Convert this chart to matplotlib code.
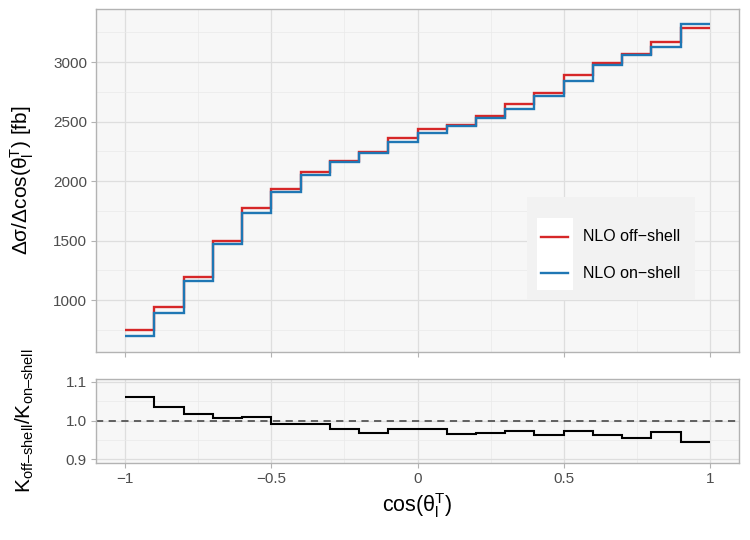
import numpy as np
import matplotlib
matplotlib.use("Agg")
import matplotlib.pyplot as plt
from matplotlib.patches import Rectangle
from matplotlib.lines import Line2D
from matplotlib.ticker import MultipleLocator

plt.rcParams['font.family'] = ['Liberation Sans', 'DejaVu Sans']
plt.rcParams['mathtext.fontset'] = 'custom'
plt.rcParams['mathtext.rm'] = 'Liberation Sans'
plt.rcParams['mathtext.it'] = 'Liberation Sans:italic'
plt.rcParams['mathtext.bf'] = 'Liberation Sans:bold'

# ---- data ----
bin_edges = [-1.0, -0.9, -0.8, -0.7, -0.6, -0.5, -0.4, -0.3, -0.2, -0.1, 0.0,
             0.1, 0.2, 0.3, 0.4, 0.5, 0.6, 0.7, 0.8, 0.9, 1.0]
nlo_off_shell = [747, 944, 1197, 1501, 1774, 1937, 2078, 2170, 2243, 2359,
                 2435, 2471, 2547, 2646, 2738, 2890, 2997, 3068, 3171, 3287]
nlo_on_shell = [696, 896, 1160, 1470, 1732, 1909, 2049, 2157, 2240, 2331,
                2407, 2465, 2527, 2609, 2716, 2842, 2975, 3062, 3124, 3318]
k_ratio = [1.061, 1.034, 1.018, 1.007, 1.008, 0.992, 0.991, 0.978, 0.967, 0.979,
           0.979, 0.965, 0.967, 0.974, 0.963, 0.973, 0.963, 0.955, 0.970, 0.946]
series_labels = ['NLO off\u2212shell', 'NLO on\u2212shell']
series_colors = ['#d62728', '#1f77b4']

W, H = 750, 540
fig = plt.figure(figsize=(7.5, 5.4), dpi=100)

def fr(l, t, r, b):
    return [l / W, 1 - b / H, (r - l) / W, (b - t) / H]

ax1 = fig.add_axes(fr(96, 9, 739, 352))
ax2 = fig.add_axes(fr(96, 379, 739, 463))

bg = '#F7F7F7'
border = '#B3B3B3'
grid_c = '#DEDEDE'
for ax in (ax1, ax2):
    ax.set_facecolor(bg)
    for s in ax.spines.values():
        s.set_color(border)
        s.set_linewidth(1.0)
    ax.set_xlim(-1.1, 1.1)
    ax.xaxis.set_major_locator(MultipleLocator(0.5))
    ax.xaxis.set_minor_locator(MultipleLocator(0.25))
    ax.grid(which='major', color=grid_c, lw=0.9)
    ax.grid(which='minor', color='#E9E9E9', lw=0.5)
    ax.set_axisbelow(True)
    ax.tick_params(which='major', length=3.5, width=0.8, color=border,
                   labelcolor='#4D4D4D', labelsize=11, pad=3)
    ax.tick_params(which='minor', length=0)

# top panel
ax1.set_ylim(564, 3447)
ax1.yaxis.set_minor_locator(MultipleLocator(250))
ax1.set_yticks([1000, 1500, 2000, 2500, 3000])
ax1.tick_params(axis='x', labelbottom=False)
ax1.stairs(nlo_off_shell, bin_edges, color=series_colors[0], lw=1.7, baseline=None)
ax1.stairs(nlo_on_shell, bin_edges, color=series_colors[1], lw=1.7, baseline=None)
ax1.set_ylabel('\u0394\u03c3/\u0394cos(\u03b8$_{\\mathrm{l}}^{\\mathrm{T}}$) [fb]',
               fontsize=15, color='black')

# legend (ggplot-style)
def px2ax(x, y):
    return ((x - 96) / 643, (352 - y) / 343)

lx0, ly0 = px2ax(526.7, 300)
lx1, ly1 = px2ax(695, 196.7)
ax1.add_patch(Rectangle((lx0, ly0), lx1 - lx0, ly1 - ly0, transform=ax1.transAxes,
                        facecolor='#F2F2F2', edgecolor='none', zorder=5))
kx0, ky0 = px2ax(536.7, 290)
kx1, ky1 = px2ax(572.7, 218.3)
ax1.add_patch(Rectangle((kx0, ky0), kx1 - kx0, ky1 - ky0, transform=ax1.transAxes,
                        facecolor='white', edgecolor='none', zorder=6))
for lab, col, yy in zip(series_labels, series_colors, [236.7, 273.3]):
    a0, b0 = px2ax(540.7, yy)
    a1, _ = px2ax(568.3, yy)
    ax1.add_line(Line2D([a0, a1], [b0, b0], transform=ax1.transAxes, color=col,
                        lw=1.7, zorder=7))
    tx, _ = px2ax(583.3, yy)
    ax1.text(tx, b0, lab, transform=ax1.transAxes, fontsize=11.5, color='black',
             va='center', ha='left', zorder=7)

# bottom panel
ax2.set_ylim(0.891, 1.107)
ax2.set_yticks([0.9, 1.0, 1.1])
ax2.set_yticklabels(['0.9', '1.0', '1.1'])
ax2.yaxis.set_minor_locator(MultipleLocator(0.05))
ax2.set_xticks([-1, -0.5, 0, 0.5, 1])
ax2.set_xticklabels(['\u22121', '\u22120.5', '0', '0.5', '1'])
ax2.axhline(1.0, color='#555555', lw=1.3, ls=(0, (4, 3)), zorder=2)
ax2.stairs(k_ratio, bin_edges, color='black', lw=1.5, baseline=None, zorder=3)
ax2.set_ylabel('K$_{\\mathrm{off\u2013shell}}$/K$_{\\mathrm{on\u2013shell}}$',
               fontsize=15, color='black')
ax2.set_xlabel('cos(\u03b8$_{\\mathrm{l}}^{\\mathrm{T}}$)', fontsize=15.5, color='black',
               labelpad=4)

# align y labels
ax1.yaxis.set_label_coords(-0.093, 0.5)
ax2.yaxis.set_label_coords(-0.093, 0.5)

fig.savefig('out.png', dpi=100, facecolor='white')
